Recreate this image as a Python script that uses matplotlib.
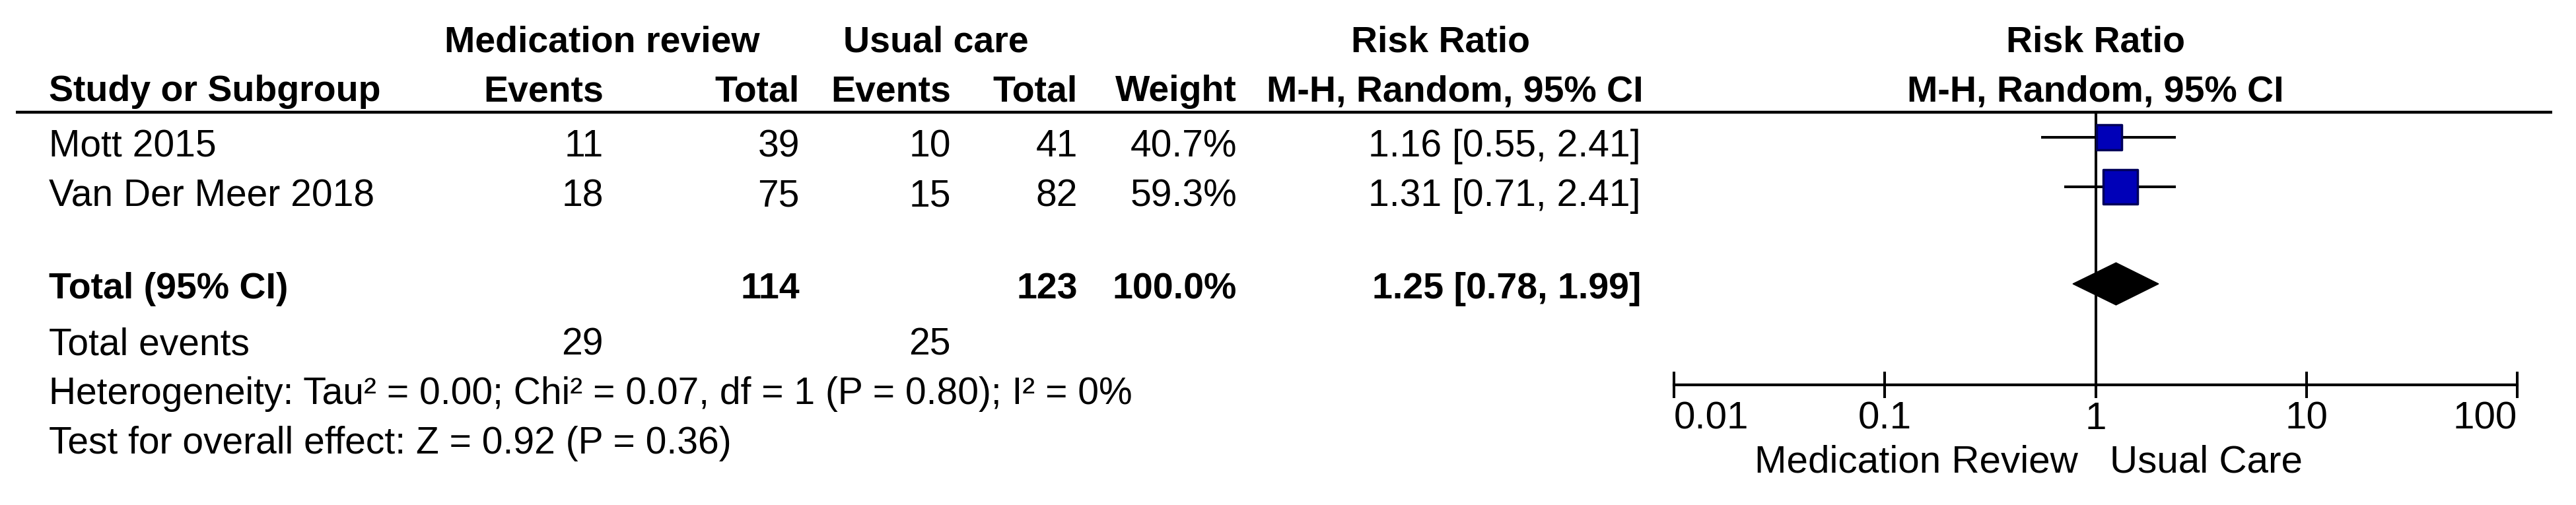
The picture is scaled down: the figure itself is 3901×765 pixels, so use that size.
import matplotlib
matplotlib.use("Agg")
import matplotlib.pyplot as plt
from matplotlib.patches import Polygon

plt.rcParams['font.family'] = ['Liberation Sans', 'DejaVu Sans']

# data
studies = ["Mott 2015", "Van Der Meer 2018"]
med_events = [11, 18]
med_total = [39, 75]
uc_events = [10, 15]
uc_total = [41, 82]
weights = [40.7, 59.3]
rr = [1.16, 1.31]
ci_lo = [0.55, 0.71]
ci_hi = [2.41, 2.41]

pooled = [1.25, 0.78, 1.99]   # estimate, lower, upper
sum_total = [114, 123]
sum_events = [29, 25]
heterogeneity = "Heterogeneity: Tau² = 0.00; Chi² = 0.07, df = 1 (P = 0.80); I² = 0%"
overall = "Test for overall effect: Z = 0.92 (P = 0.36)"
ticks = [0.01, 0.1, 1, 10, 100]
tick_labels = ["0.01", "0.1", "1", "10", "100"]
favours = ["Medication Review", "Usual Care"]

W, H = 3901, 765
FS = 41      # regular text
FSB = 40     # bold text
fig = plt.figure(figsize=(W / 100, H / 100), dpi=100)

# pixel-space axes for the table part
bg = fig.add_axes([0, 0, 1, 1])
bg.set_xlim(0, W)
bg.set_ylim(H, 0)
bg.axis("off")

# forest plot axes (log scale)
x0, x1 = 2535, 3812
fa = fig.add_axes([x0 / W, 0, (x1 - x0) / W, 1])
fa.set_xscale("log")
fa.set_xlim(ticks[0], ticks[-1])
fa.set_ylim(H, 0)
fa.patch.set_alpha(0)
for s in ["left", "right", "top"]:
    fa.spines[s].set_visible(False)
axis_y = 583
fa.spines["bottom"].set_position(("data", axis_y))
fa.spines["bottom"].set_linewidth(3.0)
fa.set_yticks([])
fa.set_xticks(ticks)
fa.set_xticklabels(tick_labels)
fa.minorticks_off()
fa.tick_params(axis="x", direction="inout", length=29.5, width=2.9,
               pad=3.2, labelsize=42)
tl = fa.get_xticklabels()
tl[0].set_ha("left")
tl[-1].set_ha("right")

# column layout (pixel positions)
x_study = 74
x_mev, x_mtot = 914, 1211
x_uev, x_utot = 1440, 1632
x_w, x_rr = 1873, 2485

base = dict(h1=78, h2=153, r0=237, r1=312, tot=452, ev=537, het=612, test=687)


def txt(x, y, s, ha="left", bold=False, size=None):
    if size is None:
        size = FSB if bold else FS
    bg.text(x, y, s, ha=ha, va="baseline", fontsize=size,
            fontweight="bold" if bold else "normal", color="black")


# headers
txt(673, base["h1"], "Medication review", bold=True)
txt(1277, base["h1"], "Usual care", bold=True)
txt(2181, base["h1"], "Risk Ratio", ha="center", bold=True)
txt(x_study, base["h2"], "Study or Subgroup", bold=True)
txt(x_mev, base["h2"], "Events", ha="right", bold=True)
txt(x_mtot, base["h2"], "Total", ha="right", bold=True)
txt(x_uev, base["h2"], "Events", ha="right", bold=True)
txt(x_utot, base["h2"], "Total", ha="right", bold=True)
txt(x_w, base["h2"], "Weight", ha="right", bold=True)
txt(2488, base["h2"], "M-H, Random, 95% CI", ha="right", bold=True)
fa.text(1, base["h1"], "Risk Ratio", ha="center", va="baseline",
        fontsize=FSB, fontweight="bold")
fa.text(1, base["h2"], "M-H, Random, 95% CI", ha="center", va="baseline",
        fontsize=FSB, fontweight="bold")

bg.plot([24, 3865], [170, 170], color="black", lw=3.2, solid_capstyle="butt")

# study rows
for i, name in enumerate(studies):
    y = base["r%d" % i]
    txt(x_study, y, name)
    txt(x_mev, y, str(med_events[i]), ha="right")
    txt(x_mtot, y, str(med_total[i]), ha="right")
    txt(x_uev, y, str(uc_events[i]), ha="right")
    txt(x_utot, y, str(uc_total[i]), ha="right")
    txt(x_w, y, "%.1f%%" % weights[i], ha="right")
    txt(x_rr, y, "%.2f [%.2f, %.2f]" % (rr[i], ci_lo[i], ci_hi[i]), ha="right")

    ym = y - 29
    fa.plot([ci_lo[i], ci_hi[i]], [ym, ym], color="black", lw=2.9,
            solid_capstyle="butt", zorder=2)
    side = 52 * (weights[i] / max(weights)) ** 0.85
    fa.scatter([rr[i]], [ym], s=(side * 0.72) ** 2, marker="s",
               facecolor="#0000B8", edgecolor="#00005A", linewidths=2.5,
               zorder=3)

# total row
y = base["tot"]
txt(x_study, y, "Total (95% CI)", bold=True)
txt(x_mtot, y, str(sum_total[0]), ha="right", bold=True)
txt(x_utot, y, str(sum_total[1]), ha="right", bold=True)
txt(x_w, y, "%.1f%%" % sum(weights), ha="right", bold=True)
txt(x_rr, y, "%.2f [%.2f, %.2f]" % tuple(pooled), ha="right", bold=True)
yd = y - 22
est, lo, hi = pooled
fa.add_patch(Polygon([(lo, yd), (est, yd - 32), (hi, yd), (est, yd + 32)],
                     closed=True, facecolor="black", edgecolor="black",
                     lw=1, zorder=3))

y = base["ev"]
txt(x_study, y, "Total events")
txt(x_mev, y, str(sum_events[0]), ha="right")
txt(x_uev, y, str(sum_events[1]), ha="right")
txt(x_study, base["het"], heterogeneity)
txt(x_study, base["test"], overall)

# line of no effect
fa.plot([1, 1], [170, axis_y], color="black", lw=2.9, zorder=1)

# favours labels
txt(3147, 716, favours[0], ha="right", size=42)
txt(3195, 716, favours[1], ha="left", size=42)

fig.savefig("out.png", dpi=100)
